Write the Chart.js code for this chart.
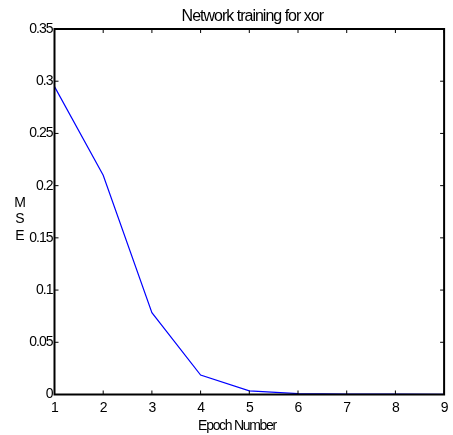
<!DOCTYPE html>
<html>
<head>
<meta charset="utf-8">
<script src="https://cdn.jsdelivr.net/npm/chart.js@4"></script>
<style>
  html, body { margin: 0; padding: 0; background: #fff; }
  #wrap { width: 453px; height: 435px; }
</style>
</head>
<body>
<div id="wrap"><canvas id="mseChart" width="453" height="435"></canvas></div>
<script>
// данные с картинки
const epochs = [1, 2, 3, 4, 5, 6, 7, 8, 9];
const mse = [0.2948, 0.2100, 0.0783, 0.0186, 0.0035, 0.0008, 0.0004, 0.0003, 0.0002];
const xTicks = [1, 2, 3, 4, 5, 6, 7, 8, 9];
const yTicks = [0, 0.05, 0.1, 0.15, 0.2, 0.25, 0.3, 0.35];
const titleText = 'Network training for xor';
const xTitle = 'Epoch Number';
const yTitle = ['M', 'S', 'E'];

const FONT = 'Liberation Sans, Arial, sans-serif';

// рамка, внутренние засечки и подписи как в matlab
const matlabAxes = {
    id: 'matlabAxes',
    beforeDraw(chart) {
        chart.ctx.letterSpacing = '-1px';
    },
    afterDraw(chart) {
        const ctx = chart.ctx;
        const a = chart.chartArea;
        const xs = chart.scales.x, ys = chart.scales.y;
        ctx.save();
        ctx.strokeStyle = '#000';
        ctx.lineWidth = 2;
        ctx.strokeRect(a.left, a.top, a.right - a.left, a.bottom - a.top);
        ctx.lineWidth = 1;
        const len = 4;
        ctx.beginPath();
        xTicks.forEach(v => {
            const px = xs.getPixelForValue(v);
            ctx.moveTo(px, a.bottom); ctx.lineTo(px, a.bottom - len);
            ctx.moveTo(px, a.top); ctx.lineTo(px, a.top + len);
        });
        yTicks.forEach(v => {
            const py = ys.getPixelForValue(v);
            ctx.moveTo(a.left, py); ctx.lineTo(a.left + len, py);
            ctx.moveTo(a.right, py); ctx.lineTo(a.right - len, py);
        });
        ctx.stroke();

        ctx.fillStyle = '#000';
        ctx.textAlign = 'center';
        ctx.textBaseline = 'alphabetic';
        ctx.font = '16px ' + FONT;
        ctx.letterSpacing = '-1px';
        ctx.fillText(titleText, (a.left + a.right) / 2 + 3, 21);

        ctx.font = '14px ' + FONT;
        ctx.letterSpacing = '-1.3px';
        ctx.fillText(xTitle, 237, 430);

        ctx.letterSpacing = '0px';
        yTitle.forEach((ch, i) => {
            ctx.fillText(ch, 20, 207 + i * 16.3);
        });
        ctx.restore();
    }
};

new Chart(document.getElementById('mseChart').getContext('2d'), {
    type: 'line',
    data: {
        labels: epochs,
        datasets: [{
            data: epochs.map((e, i) => ({ x: e, y: mse[i] })),
            borderColor: '#0000ff',
            borderWidth: 1.2,
            pointRadius: 0,
            tension: 0,
            fill: false
        }]
    },
    options: {
        responsive: false,
        animation: false,
        maintainAspectRatio: false,
        layout: { padding: { top: 29, right: 8, left: 0, bottom: 0 } },
        scales: {
            x: {
                type: 'linear',
                min: 1,
                max: 9,
                afterBuildTicks: s => { s.ticks = xTicks.map(v => ({ value: v })); },
                afterFit: s => { s.height = 40.5; },
                grid: { display: false, drawTicks: false },
                border: { display: false },
                ticks: {
                    autoSkip: false,
                    maxRotation: 0,
                    padding: 5,
                    color: '#000',
                    font: { family: FONT, size: 14 }
                }
            },
            y: {
                type: 'linear',
                min: 0,
                max: 0.35,
                afterBuildTicks: s => { s.ticks = yTicks.map(v => ({ value: v })); },
                afterFit: s => { s.width = 54.5; },
                grid: { display: false, drawTicks: false },
                border: { display: false },
                ticks: {
                    padding: 2,
                    color: '#000',
                    font: { family: FONT, size: 14 },
                    callback: v => String(Math.round(v * 100) / 100)
                }
            }
        },
        plugins: {
            legend: { display: false },
            tooltip: { enabled: false },
            title: { display: false }
        }
    },
    plugins: [matlabAxes]
});
</script>
</body>
</html>
